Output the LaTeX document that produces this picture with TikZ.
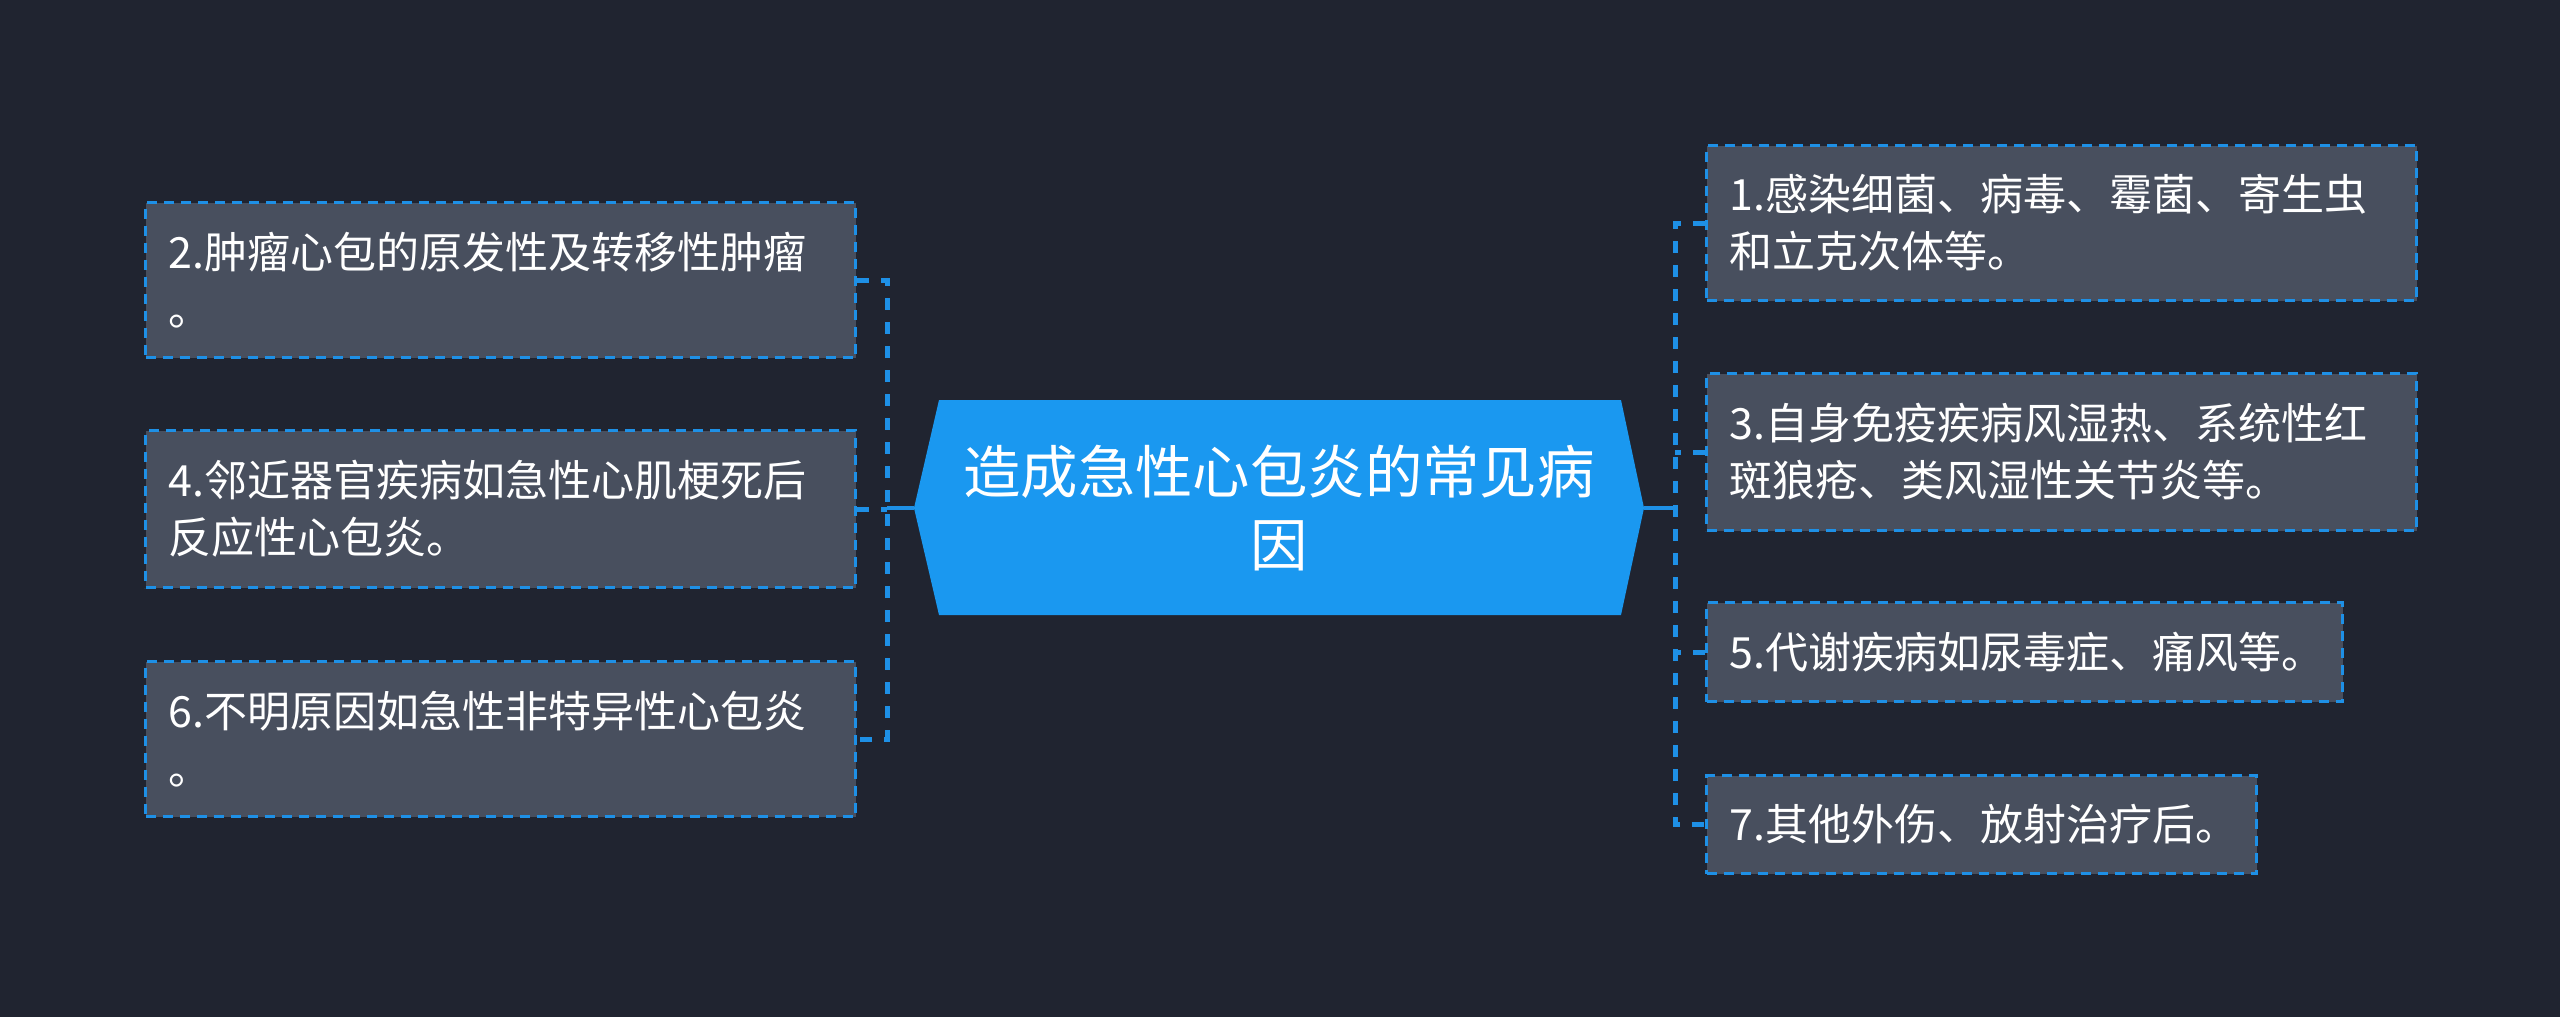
\documentclass[tikz,border=0pt]{standalone}
\usepackage{fontspec}
\setmainfont{Noto Sans CJK SC}
\usepackage{tikz}

\definecolor{bgcol}{RGB}{32,36,48}
\definecolor{boxcol}{RGB}{72,79,94}
\definecolor{linecol}{RGB}{30,144,230}
\definecolor{rootcol}{RGB}{26,152,240}

\tikzset{
  leaf/.style={anchor=north west, rectangle, fill=boxcol, draw=linecol,
    line width=1.5pt, dash pattern=on 5pt off 3.5pt, text=white,
    inner xsep=11.5pt, inner ysep=0pt, align=left,
    font=\fontsize{21.5}{28.5}\selectfont},
  link/.style={draw=linecol, line width=2.5pt, dash pattern=on 6pt off 6pt},
  rootlink/.style={draw=linecol, line width=2pt}
}

\begin{document}
\begin{tikzpicture}[x=0.5pt, y=-0.5pt]
                    % Background
                    \fill[bgcol] (0,0) rectangle (2560,1017);
                    % Root
                    \fill[rootcol] (914,508) -- (939,400) -- (1621,400) -- (1644,508)
                      -- (1621,615) -- (939,615) -- cycle;
                    \node[minimum width=365pt, minimum height=107.5pt, inner sep=0pt,
                      align=center, text=white, font=\fontsize{28.7}{36.5}\selectfont]
                      (root) at (1279,508) {造成急性心包炎的常见病\\因};
                    % Left leaves
                    \node[leaf, text width=332pt, minimum height=77.5pt] (b2) at (144,201)
                      {2.肿瘤心包的原发性及转移性肿瘤\\。};
                    \node[leaf, text width=332pt, minimum height=78.5pt] (b4) at (144,429)
                      {4.邻近器官疾病如急性心肌梗死后\\反应性心包炎。};
                    \node[leaf, text width=332pt, minimum height=77.5pt] (b6) at (144,660)
                      {6.不明原因如急性非特异性心包炎\\。};
                    % Right leaves
                    \node[leaf, text width=332pt, minimum height=77.5pt] (b1) at (1705,144)
                      {1.感染细菌、病毒、霉菌、寄生虫\\和立克次体等。};
                    \node[leaf, text width=332pt, minimum height=78.5pt] (b3) at (1705,372)
                      {3.自身免疫疾病风湿热、系统性红\\斑狼疮、类风湿性关节炎等。};
                    \node[leaf, text width=295pt, minimum height=49.5pt] (b5) at (1705,601)
                      {5.代谢疾病如尿毒症、痛风等。};
                    \node[leaf, text width=252pt, minimum height=49pt] (b7) at (1705,774)
                      {7.其他外伤、放射治疗后。};
                    % Joints
                    \coordinate (ljoin) at (887,508);
                    \coordinate (rjoin) at (1675,508);
                    % Edges
                    \draw[rootlink] (root.west) -- (ljoin);
                    \draw[rootlink] (root.east) -- (rjoin);
                    \draw[link] (b2.east) -| (ljoin) |- (b6.east);
                    \draw[link] (b4.east) -- (b4.east -| ljoin);
                    \draw[link] (b1.west) -| (rjoin) |- (b7.west);
                    \draw[link] (b3.west) -- (b3.west -| rjoin);
                    \draw[link] (b5.west) -- (b5.west -| rjoin);
                \end{tikzpicture}
\end{document}
